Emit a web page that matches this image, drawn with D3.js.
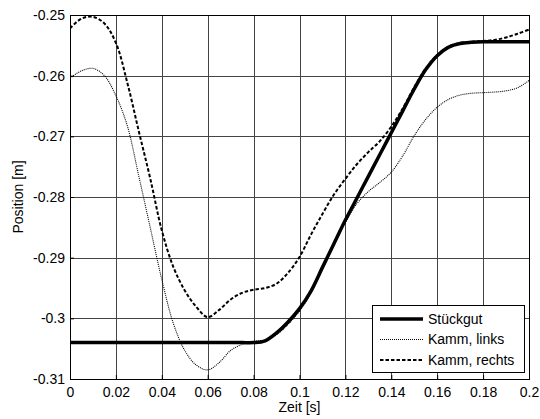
<!DOCTYPE html>
<html>
<head>
<meta charset="utf-8">
<script src="https://cdn.jsdelivr.net/npm/d3@7"></script>
<style>
  body { margin: 0; background: #fff; }
  text { font-family: "Liberation Sans", Arial, sans-serif; }
</style>
</head>
<body>
<svg class="chart"></svg>
<script>
// time axis (s)
var zeit = [0, 0.005, 0.01, 0.015, 0.02, 0.025, 0.03, 0.035, 0.04, 0.045,
            0.05, 0.055, 0.06, 0.065, 0.07, 0.075, 0.08, 0.085, 0.09, 0.095,
            0.1, 0.105, 0.11, 0.115, 0.12, 0.125, 0.13, 0.135, 0.14, 0.145,
            0.15, 0.155, 0.16, 0.165, 0.17, 0.175, 0.18, 0.185, 0.19, 0.195, 0.2];

// positions (m)
var stueckgut = [-0.304, -0.304, -0.304, -0.304, -0.304, -0.304, -0.304, -0.304, -0.304, -0.304,
                 -0.304, -0.304, -0.304, -0.304, -0.304, -0.304, -0.304, -0.3037, -0.3024, -0.3006,
                 -0.2984, -0.2955, -0.2916, -0.2877, -0.2838, -0.2802, -0.2766, -0.2730, -0.2694, -0.2658,
                 -0.2622, -0.2590, -0.2567, -0.2553, -0.2547, -0.2545, -0.2544, -0.2544, -0.2544, -0.2544, -0.2544];

var kammLinks = [-0.2604, -0.2592, -0.2588, -0.2600, -0.2633, -0.2683, -0.2766, -0.2851, -0.2936, -0.3008,
                 -0.3053, -0.3077, -0.3085, -0.3073, -0.3053, -0.3043, -0.3038, -0.3036, -0.3027, -0.3010,
                 -0.2988, -0.2958, -0.2919, -0.2879, -0.2842, -0.2811, -0.2791, -0.2776, -0.2759, -0.2732,
                 -0.2699, -0.2672, -0.2652, -0.2639, -0.2632, -0.2629, -0.2628, -0.2627, -0.2625, -0.2620, -0.2608];

var kammRechts = [-0.2522, -0.2506, -0.2503, -0.2514, -0.2546, -0.2612, -0.2692, -0.2770, -0.2855, -0.2915,
                  -0.2954, -0.2981, -0.2998, -0.2986, -0.2969, -0.2958, -0.2953, -0.2950, -0.2943, -0.2925,
                  -0.2899, -0.2862, -0.2828, -0.2796, -0.2770, -0.2746, -0.2726, -0.2708, -0.2684, -0.2654,
                  -0.2619, -0.2588, -0.2566, -0.2552, -0.2546, -0.2544, -0.2543, -0.2541, -0.2537, -0.2531, -0.2524];

var xTicks = [0, 0.02, 0.04, 0.06, 0.08, 0.1, 0.12, 0.14, 0.16, 0.18, 0.2];
var yTicks = [-0.31, -0.3, -0.29, -0.28, -0.27, -0.26, -0.25];
var xTickLabels = ["0", "0.02", "0.04", "0.06", "0.08", "0.1", "0.12", "0.14", "0.16", "0.18", "0.2"];
var yTickLabels = ["-0.31", "-0.3", "-0.29", "-0.28", "-0.27", "-0.26", "-0.25"];

var seriesNames = ["Stückgut", "Kamm, links", "Kamm, rechts"];

// chart size and margins
var margin = {top: 15, right: 11, bottom: 40, left: 70};
var W = 540, H = 419;
var width = W - margin.left - margin.right;
var height = H - margin.top - margin.bottom;
var fontSize = 14;

var x = d3.scaleLinear().domain([0, 0.2]).range([0, width]);
var y = d3.scaleLinear().domain([-0.31, -0.25]).range([height, 0]);

var svg = d3.select(".chart").attr("width", W).attr("height", H);
var g = svg.append("g").attr("transform", "translate(" + margin.left + "," + margin.top + ")");

// grid
g.append("g")
    .attr("class", "grid")
    .attr("transform", "translate(0," + height + ")")
    .call(d3.axisBottom(x).tickValues(xTicks).tickSize(-height).tickFormat(""))
    .call(a => a.select(".domain").remove());
g.append("g")
    .attr("class", "grid")
    .call(d3.axisLeft(y).tickValues(yTicks).tickSize(-width).tickFormat(""))
    .call(a => a.select(".domain").remove());
g.selectAll(".grid line")
    .attr("stroke", "#444")
    .attr("stroke-width", 1)
    .attr("shape-rendering", "crispEdges");

// axes with tick labels
var xAxis = g.append("g")
    .attr("transform", "translate(0," + height + ")")
    .call(d3.axisBottom(x).tickValues(xTicks).tickSize(-4).tickPadding(8)
          .tickFormat((d, i) => xTickLabels[i]));
var yAxis = g.append("g")
    .call(d3.axisLeft(y).tickValues(yTicks).tickSize(-4).tickPadding(5)
          .tickFormat((d, i) => yTickLabels[i]));
[xAxis, yAxis].forEach(function(a) {
  a.select(".domain").remove();
  a.selectAll("line").attr("stroke", "#000");
  a.selectAll("text").attr("font-size", fontSize).attr("fill", "#000")
      .attr("font-family", "'Liberation Sans', Arial, sans-serif");
});

// lines
var rows = zeit.map((t, i) => ({t: t, s: stueckgut[i], l: kammLinks[i], r: kammRechts[i]}));
var line = key => d3.line().x(d => x(d.t)).y(d => y(d[key])).curve(d3.curveCatmullRom.alpha(0.5));

var styles = [
  {key: "s", width: 3.5, dash: null},
  {key: "l", width: 1.1, dash: "1,1"},
  {key: "r", width: 2, dash: "3.5,2"}
];

var plot = g.append("g");
plot.append("clipPath").attr("id", "clip")
    .append("rect").attr("width", width).attr("height", height);

styles.forEach(function(st) {
  plot.append("path")
      .datum(rows)
      .attr("clip-path", "url(#clip)")
      .attr("fill", "none")
      .attr("stroke", "#000")
      .attr("stroke-width", st.width)
      .attr("stroke-dasharray", st.dash)
      .attr("d", line(st.key));
});

// box
g.append("rect")
    .attr("width", width).attr("height", height)
    .attr("fill", "none").attr("stroke", "#000").attr("stroke-width", 1)
    .attr("shape-rendering", "crispEdges");

// axis labels
svg.append("text")
    .attr("x", margin.left + width / 2)
    .attr("y", 412)
    .attr("text-anchor", "middle")
    .attr("font-size", fontSize)
    .text("Zeit [s]");
svg.append("text")
    .attr("transform", "translate(23," + (margin.top + height / 2) + ") rotate(-90)")
    .attr("text-anchor", "middle")
    .attr("font-size", fontSize)
    .text("Position [m]");

// legend
var legend = svg.append("g").attr("transform", "translate(372,305)");
legend.append("rect")
    .attr("width", 152).attr("height", 67)
    .attr("fill", "#fff").attr("stroke", "#000").attr("stroke-width", 1)
    .attr("shape-rendering", "crispEdges");
var item = legend.selectAll(".item")
    .data(styles)
    .enter().append("g")
    .attr("class", "item")
    .attr("transform", (d, i) => "translate(0," + (14 + i * 20.5) + ")");
item.append("line")
    .attr("x1", 8).attr("x2", 51)
    .attr("stroke", "#000")
    .attr("stroke-width", d => d.width)
    .attr("stroke-dasharray", d => d.dash);
item.append("text")
    .attr("x", 56).attr("dy", "0.35em")
    .attr("font-size", fontSize)
    .text((d, i) => seriesNames[i]);
</script>
</body>
</html>
